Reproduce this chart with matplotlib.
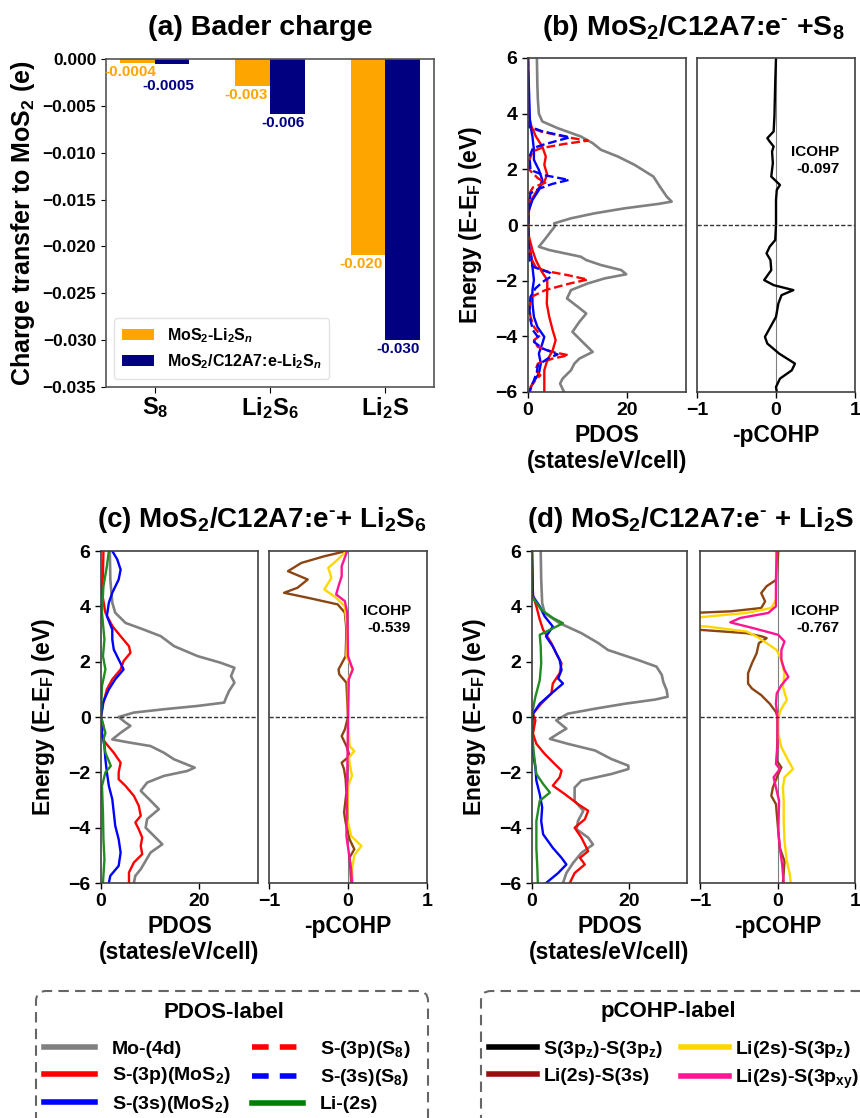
import numpy as np
import matplotlib
matplotlib.use('Agg')
import matplotlib.pyplot as plt
from matplotlib.lines import Line2D
from matplotlib.patches import FancyBboxPatch
from matplotlib.ticker import FuncFormatter

plt.rcParams['font.family'] = ['Liberation Sans', 'DejaVu Sans']
plt.rcParams['font.weight'] = 'bold'
plt.rcParams['axes.labelweight'] = 'bold'
plt.rcParams['mathtext.fontset'] = 'custom'
plt.rcParams['mathtext.default'] = 'regular'
plt.rcParams['mathtext.rm'] = 'Liberation Sans:bold'
plt.rcParams['mathtext.bf'] = 'Liberation Sans:bold'
plt.rcParams['mathtext.it'] = 'Liberation Sans:italic:bold'

# ---------------- (a) Bader charge ----------------
systems = [r'S$_8$', r'Li$_2$S$_6$', r'Li$_2$S']
bader_mos2 = [-0.0004, -0.0029, -0.0209]
bader_c12a7 = [-0.0005, -0.0059, -0.0300]
bader_mos2_txt = ['-0.0004', '-0.003', '-0.020']
bader_c12a7_txt = ['-0.0005', '-0.006', '-0.030']

# ---------------- (b) MoS2/C12A7:e- + S8 ----------------
b_mo_e = [6.0, 5.0, 4.5, 4.0, 3.72, 3.48, 3.18, 2.94, 2.7, 2.46, 2.16, 1.74, 1.38, 1.02, 0.84, 0.76, 0.6, 0.42,
          0.24, 0.06, -0.06, -0.24, -0.54, -0.78, -0.9, -1.14, -1.26, -1.44, -1.62, -1.77, -1.92, -2.1, -2.34,
          -2.64, -2.94, -3.18, -3.48, -3.84, -4.14, -4.56, -4.8, -4.98, -5.22, -5.52, -5.7, -6.0]
b_mo = [1.8, 1.9, 2.0, 2.2, 2.9, 6.0, 10.7, 13.1, 14.8, 18.2, 21.6, 25.4, 26.7, 28.1, 29.1, 26.5, 19.6, 13.5,
        8.7, 5.3, 5.4, 4.6, 3.3, 2.2, 4.3, 10.7, 11.8, 14.8, 18.9, 19.9, 15.5, 12.1, 8.7,
        7.9, 10.1, 11.8, 10.4, 9.0, 10.7, 13.1, 10.4, 9.4, 8.7, 7.0, 6.5, 7.3]
b_s3p_e = [6.0, 4.0, 3.54, 3.18, 2.82, 2.46, 2.16, 1.8, 1.56, 1.26, 0.9, 0.54, 0.0, -0.42, -0.9, -1.26, -1.62,
           -1.98, -2.34, -2.82, -3.3, -3.78, -4.14, -4.5, -4.86, -5.22, -5.58, -6.0]
b_s3p = [0.0, 0.1, 0.7, 1.6, 2.9, 3.6, 3.3, 3.9, 3.3, 1.9, 0.7, 0.2, 0.0, 0.2, 0.9, 1.6, 2.6,
         3.9, 3.9, 3.8, 4.3, 5.0, 5.6, 5.0, 3.9, 3.3, 3.3, 3.3]
b_s3s_e = [6.0, 4.3, 3.66, 3.18, 2.7, 2.34, 1.98, 1.62, 1.26, 0.9, 0.54, 0.0, -0.66, -1.14, -1.5, -1.98, -2.34,
           -2.82, -3.3, -3.66, -4.02, -4.26, -4.62, -4.98, -5.34, -5.7, -6.0]
b_s3s = [0.0, 0.3, 0.4, 0.9, 1.2, 1.2, 2.2, 2.9, 2.2, 0.9, 0.2, 0.0, 0.1, 0.7, 0.9, 1.2, 0.9,
         0.9, 1.2, 1.9, 3.3, 2.9, 2.2, 2.6, 2.2, 0.9, 0.2]
b_s8p_e = [6.0, 3.6, 3.52, 3.36, 3.15, 3.03, 2.91, 2.76, 2.64, 2.34, 1.98, 1.68, 1.52, 1.35, 1.14, 0.5, -0.6,
           -1.14, -1.5, -1.65, -1.8, -1.96, -2.1, -2.34, -2.58, -2.94, -3.3, -3.66, -3.96, -4.14, -4.38,
           -4.56, -4.68, -4.8, -4.98, -5.22, -5.4, -5.58, -5.82, -6.0]
b_s8p = [0.0, 0.0, 0.2, 2.6, 8.0, 12.1, 7.3, 2.6, 0.9, 0.3, 0.3, 2.0, 3.5, 1.0, 0.3, 0.1, 0.1,
         0.5, 1.5, 3.5, 8.0, 12.1, 8.5, 3.5, 0.7, 0.3, 0.5, 1.2, 2.5, 1.2, 2.0,
         5.0, 8.2, 5.0, 2.0, 1.5, 2.5, 1.5, 0.5, 0.5]
b_s8s_e = [6.0, 3.6, 3.54, 3.36, 3.15, 3.03, 2.88, 2.76, 2.46, 1.98, 1.8, 1.62, 1.48, 1.32, 1.14, 0.5, -0.6,
           -1.26, -1.5, -1.72, -1.86, -2.04, -2.28, -2.58, -3.06, -3.42, -3.78, -4.02, -4.2, -4.44, -4.65,
           -4.8, -5.04, -5.28, -5.58, -6.0]
b_s8s = [0.0, 0.0, 0.2, 3.0, 8.5, 6.0, 3.0, 1.0, 0.3, 0.5, 3.0, 8.3, 5.0, 2.5, 0.5, 0.1, 0.1,
         0.3, 1.0, 4.5, 4.6, 3.0, 1.5, 0.5, 0.3, 0.5, 1.0, 2.0, 1.2, 3.0, 6.0,
         4.0, 2.0, 1.8, 1.2, 0.3]
b_cohp_e = [6.0, 5.1, 3.9, 3.36, 3.12, 3.0, 2.82, 2.64, 2.22, 1.74, 1.44, 1.26, 0.9, 0.0, -0.54, -0.78, -1.02,
            -1.26, -1.62, -1.98, -2.16, -2.34, -2.52, -2.82, -3.3, -3.66, -4.02, -4.26, -4.62, -4.98, -5.22,
            -5.52, -5.82, -6.0]
b_cohp = [0.0, -0.01, -0.02, -0.03, -0.11, -0.08, -0.03, -0.05, -0.04, -0.06, 0.05, 0.01, 0.0, 0.0, -0.01, -0.08,
          -0.12, -0.07, -0.06, -0.15, -0.03, 0.22, 0.07, 0.03, 0.0, -0.07, -0.14, -0.11, 0.04, 0.24, 0.2,
          0.05, 0.0, 0.01]

# ---------------- (c) MoS2/C12A7:e- + Li2S6 ----------------
c_mo_e = [6.0, 4.97, 4.13, 3.77, 3.4, 3.16, 2.92, 2.56, 2.2, 1.96, 1.78, 1.48, 1.24, 0.94, 0.7, 0.52, 0.4, 0.28,
          0.16, 0.0, -0.2, -0.32, -0.57, -0.81, -0.93, -1.05, -1.29, -1.53, -1.83, -1.95, -2.13, -2.37, -2.67,
          -2.97, -3.33, -3.69, -4.0, -4.3, -4.6, -4.9, -5.2, -5.5, -5.74, -6.0]
c_mo = [1.8, 1.9, 2.3, 2.9, 5.0, 8.7, 12.2, 14.9, 19.7, 24.4, 27.2, 26.5, 27.2, 26.1, 25.5, 25.1, 19.7, 12.8,
        6.7, 3.6, 5.0, 6.0, 4.0, 2.3, 6.0, 10.1, 12.8, 14.9, 19.1, 17.6, 12.8, 9.4, 8.1,
        9.8, 11.8, 9.4, 9.1, 10.8, 12.5, 10.1, 9.1, 8.1, 7.0, 6.7]
c_s3p_e = [6.0, 5.2, 4.5, 3.77, 3.29, 2.92, 2.56, 2.32, 2.02, 1.72, 1.36, 1.0, 0.52, 0.0, -0.32, -0.69, -0.93,
           -1.29, -1.65, -2.0, -2.25, -2.49, -2.85, -3.21, -3.57, -3.81, -4.06, -4.36, -4.66, -4.96, -5.26,
           -5.62, -6.0]
c_s3p = [0.5, 0.4, 0.2, 0.9, 2.3, 4.0, 5.7, 6.0, 4.6, 4.0, 2.3, 1.2, 0.5, 0.0, 0.5, 0.0, 0.9,
         2.6, 4.0, 3.6, 3.6, 5.0, 6.7, 7.7, 8.1, 7.0, 7.7, 8.4, 8.1, 8.4, 6.7,
         5.7, 5.7]
c_s3s_e = [6.0, 5.7, 5.33, 4.97, 4.49, 4.13, 3.65, 3.16, 2.8, 2.44, 2.08, 1.72, 1.36, 1.0, 0.52, 0.0, -0.57,
           -1.05, -1.53, -2.0, -2.49, -2.97, -3.45, -3.93, -4.42, -4.9, -5.38, -5.74, -6.0]
c_s3s = [2.3, 3.3, 4.0, 3.6, 2.3, 1.6, 1.2, 2.3, 2.3, 2.6, 3.6, 4.6, 2.9, 1.6, 0.4, 0.0, 0.2,
         0.7, 0.9, 1.2, 1.6, 2.3, 2.6, 2.9, 3.6, 4.0, 3.6, 1.9, 1.6]
c_li_e = [6.0, 5.45, 4.73, 3.77, 2.8, 2.2, 1.72, 1.12, 0.0, -0.57, -0.81, -1.29, -1.77, -2.0, -2.49, -3.45,
          -4.42, -5.14, -6.0]
c_li = [1.6, 1.2, 0.5, 0.2, 0.7, 0.4, 0.9, 0.2, 0.0, 0.9, 0.5, 0.9, 2.0, 0.9, 0.2, 0.4,
        0.5, 0.7, 0.4]
c_ss_e = [6.0, 5.81, 5.57, 5.27, 4.97, 4.67, 4.49, 4.31, 4.07, 3.77, 3.16, 2.2, 1.72, 1.54, 1.24, 0.0, -0.45,
          -0.69, -1.05, -1.41, -1.65, -1.89, -2.25, -2.73, -3.45, -3.81, -4.42, -4.78, -5.08, -5.5, -6.0]
c_ss = [-0.02, -0.30, -0.59, -0.76, -0.51, -0.64, -0.81, -0.51, -0.13, -0.04, -0.02, -0.03, -0.12, -0.11, -0.02,
        0.0, -0.04, -0.08, -0.02, 0.02, -0.08, -0.05, -0.03, -0.02, -0.05, -0.03, 0.02, 0.08, 0.02, 0.03, 0.04]
c_pz_e = [6.0, 5.69, 5.39, 5.03, 4.61, 4.31, 4.0, 3.16, 2.2, 1.72, 1.36, 0.0, -1.05, -1.23, -1.47, -2.13, -2.49,
          -3.69, -4.3, -4.66, -5.0, -5.5, -6.0]
c_pz = [-0.02, -0.13, -0.25, -0.21, -0.30, -0.15, -0.04, -0.01, -0.02, 0.06, 0.0, 0.0, 0.02, 0.08, 0.01, 0.05,
        0.0, -0.01, 0.04, 0.17, 0.08, 0.05, 0.06]
c_pxy_e = [6.0, 5.45, 5.09, 4.73, 4.43, 4.19, 3.77, 2.2, 1.72, 1.36, 0.0, -2.25, -4.3, -4.9, -5.5, -6.0]
c_pxy = [-0.01, -0.08, -0.08, -0.12, -0.15, -0.04, -0.01, 0.0, 0.06, 0.01, 0.0, -0.01, -0.02, 0.01, 0.04, 0.05]

# ---------------- (d) MoS2/C12A7:e- + Li2S ----------------
d_mo_e = [6.0, 4.97, 4.12, 3.76, 3.39, 3.03, 2.67, 2.42, 2.06, 1.82, 1.52, 1.27, 0.97, 0.73, 0.63, 0.48, 0.3,
          0.12, -0.12, -0.42, -0.6, -0.79, -0.97, -1.21, -1.52, -1.76, -1.88, -2.06, -2.3, -2.55, -3.03, -3.39,
          -3.76, -4.06, -4.36, -4.61, -4.91, -5.27, -5.64, -6.0]
d_mo = [1.8, 1.9, 2.1, 2.6, 5.7, 10.2, 13.7, 15.7, 21.9, 25.7, 26.8, 27.1, 27.8, 28.0, 25.4, 19.2, 13.0,
        7.4, 5.0, 7.1, 5.4, 3.7, 7.4, 13.0, 16.4, 19.9, 19.9, 16.4, 10.2, 8.8, 8.8, 10.6,
        9.5, 9.2, 11.6, 12.6, 10.2, 8.5, 7.1, 6.4]
d_s3p_e = [6.0, 4.4, 4.0, 3.52, 3.15, 2.67, 2.3, 1.94, 1.58, 1.21, 0.85, 0.48, 0.12, -0.12, -0.6, -0.97, -1.33,
           -1.7, -1.94, -2.18, -2.48, -2.79, -3.15, -3.39, -3.7, -4.0, -4.36, -4.85, -5.09, -5.33, -5.64, -6.0]
d_s3p = [0.0, 0.2, 0.9, 1.6, 2.3, 4.0, 5.0, 6.1, 5.7, 4.3, 4.0, 1.9, 0.2, 0.7, 0.2, 0.9, 2.6,
         4.7, 6.1, 5.7, 4.3, 6.8, 9.5, 11.6, 10.9, 8.8, 10.2, 11.6, 9.9, 10.9, 8.8, 7.8]
d_s3s_e = [6.0, 4.36, 4.0, 3.64, 3.27, 2.91, 2.55, 2.06, 1.7, 1.39, 1.21, 0.85, 0.48, 0.12, -0.6, -1.33, -1.82,
           -2.3, -2.79, -3.27, -3.76, -4.24, -4.73, -5.09, -5.33, -5.64, -6.0]
d_s3s = [0.0, 0.2, 1.6, 2.6, 4.3, 2.9, 4.3, 5.7, 6.1, 5.4, 6.4, 4.0, 1.6, 0.2, 0.0, 0.2, 0.7,
         0.9, 1.6, 2.1, 1.9, 2.3, 4.3, 6.1, 7.1, 5.4, 2.9]
d_li_e = [6.0, 4.36, 3.88, 3.58, 3.39, 3.15, 2.97, 2.55, 1.94, 1.33, 0.73, 0.12, -0.6, -1.33, -2.06, -2.42,
          -2.73, -3.03, -3.76, -4.73, -5.45, -6.0]
d_li = [0.0, 0.0, 1.9, 4.3, 6.4, 3.7, 1.6, 1.8, 1.9, 1.6, 0.7, 0.0, 0.0, 0.4, 0.9, 2.3,
        3.7, 1.6, 0.9, 0.9, 1.1, 1.2]
d_ss_e = [6.0, 4.97, 4.73, 4.48, 4.18, 3.94, 3.82, 3.76, 3.7, 3.2, 3.15, 3.03, 2.91, 2.85, 2.67, 2.3, 1.94,
          1.58, 1.21, 1.03, 0.79, 0.48, 0.18, 0.0, -0.6, -1.58, -1.82, -2.06, -2.55, -2.85, -3.15, -4.12,
          -4.73, -5.21, -5.64, -6.0]
d_ss = [0.01, -0.01, -0.14, -0.21, -0.16, -0.21, -0.60, -1.1, -1.3, -1.3, -1.0, -0.4, -0.20, -0.14, -0.24, -0.27,
        -0.33, -0.38, -0.38, -0.33, -0.21, -0.10, -0.02, 0.0, 0.0, -0.01, 0.05, 0.01, -0.06, -0.08, -0.02, 0.01,
        0.03, 0.09, 0.08, 0.07]
d_pz_e = [6.0, 4.97, 4.24, 3.94, 3.76, 3.64, 3.55, 3.3, 3.27, 3.09, 2.91, 2.67, 2.42, 2.06, 1.58, 1.09, 0.61,
          0.3, 0.0, -0.6, -1.09, -1.58, -1.88, -2.18, -2.55, -3.03, -3.76, -4.48, -5.21, -5.7, -6.0]
d_pz = [-0.02, -0.01, -0.02, -0.08, -0.40, -0.87, -1.2, -1.2, -0.91, -0.40, -0.27, -0.14, -0.01, 0.05, 0.09, 0.07,
        0.12, 0.05, 0.01, 0.01, 0.05, 0.14, 0.20, 0.09, 0.07, 0.08, 0.08, 0.09, 0.12, 0.16, 0.17]
d_pxy_e = [6.0, 4.97, 4.0, 3.76, 3.58, 3.42, 3.21, 2.97, 2.73, 2.42, 2.06, 1.7, 1.45, 1.15, 0.85, 0.48, 0.0,
           -1.09, -1.7, -1.88, -2.18, -2.55, -3.03, -4.12, -4.73, -5.33, -6.0]
d_pxy = [-0.01, -0.02, -0.02, -0.12, -0.48, -0.61, -0.31, 0.01, 0.09, 0.05, 0.05, 0.09, 0.14, 0.05, -0.01, -0.02,
         0.0, 0.0, -0.02, 0.03, -0.05, -0.02, 0.02, 0.01, 0.03, 0.06, 0.08]

icohp = ['-0.097', '-0.539', '-0.767']

pdos_labels = ['Mo-(4d)', r'S-(3p)(MoS$_2$)', r'S-(3s)(MoS$_2$)', r'S-(3p)(S$_8$)', r'S-(3s)(S$_8$)', 'Li-(2s)']
cohp_labels = [r'S(3p$_z$)-S(3p$_z$)', 'Li(2s)-S(3s)', r'Li(2s)-S(3p$_z$)', r'Li(2s)-S(3p$_{xy}$)']

# colours
C_MO, C_RED, C_BLUE, C_GREEN = 'gray', 'red', 'blue', 'forestgreen'
C_BROWN, C_GOLD, C_PINK = '#8B4513', 'gold', '#FF1493'

HY = '\u2010'  # short hyphen for the e- superscript

W, H = 860, 1118
fig = plt.figure(figsize=(W / 100, H / 100), dpi=100)


def fx(px):
    return px / W


def fy(py):
    return 1 - py / H


def px_axes(l, t, r, b):
    return fig.add_axes([fx(l), fy(b), (r - l) / W, (b - t) / H])


def frame(ax):
    for s in ax.spines.values():
        s.set_color('#404040')
        s.set_linewidth(1.2)
    ax.tick_params(labelsize=14, length=4, width=1, colors='black')


def pdos_axes(ax, curves):
    for e, v, col, ls in curves:
        ax.plot(v, e, color=col, ls=ls, lw=1.7 if col != C_MO else 1.9)
    ax.axhline(0, color='#333333', ls=(0, (3, 1.5)), lw=1)
    ax.set_xlim(0, 32)
    ax.set_ylim(-6, 6)
    ax.set_xticks([0, 20])
    ax.set_yticks([-6, -4, -2, 0, 2, 4, 6])
    ax.set_xlabel('PDOS\n(states/eV/cell)', fontsize=16.5, labelpad=3)
    ax.set_ylabel(r'Energy (E-E$_F$) (eV)', fontsize=16.5, labelpad=8)
    frame(ax)


def cohp_axes(ax, curves, txt, ty):
    ax.axvline(0, color='gray', lw=0.8)
    for e, v, col in curves:
        ax.plot(v, e, color=col, lw=1.7)
    ax.axhline(0, color='#333333', ls=(0, (3, 1.5)), lw=1)
    ax.set_xlim(-1, 1)
    ax.set_ylim(-6, 6)
    ax.set_xticks([-1, 0, 1])
    ax.set_yticks([])
    ax.set_xlabel('-pCOHP', fontsize=16.5, labelpad=3)
    ax.text(0.9, ty, 'ICOHP\n' + txt, transform=ax.transAxes, ha='right', va='top',
            multialignment='right', fontsize=11, linespacing=1.3)
    frame(ax)


# ---------- panel (a) ----------
ax_a = px_axes(106, 59, 434, 387)
x = np.arange(len(systems))
w = 0.3
ax_a.bar(x - w / 2, bader_mos2, w, color='orange', label=r'MoS$_2$-Li$_2$S$_\mathit{n}$')
ax_a.bar(x + w / 2, bader_c12a7, w, color='navy', label=r'MoS$_2$/C12A7:e-Li$_2$S$_\mathit{n}$')
for i in range(len(systems)):
    ax_a.annotate(bader_mos2_txt[i], (x[i] - w / 2, bader_mos2[i]), xytext=(-5, -1.5), textcoords='offset points',
                  ha='center', va='top', color='orange', fontsize=11)
    off = -11 if i == 0 else -1.5
    ax_a.annotate(bader_c12a7_txt[i], (x[i] + w / 2, bader_c12a7[i]), xytext=(-3, off), textcoords='offset points',
                  ha='center', va='top', color='navy', fontsize=11)
ax_a.set_xlim(-0.426, 2.426)
ax_a.set_ylim(-0.035, 0)
ax_a.set_xticks(x)
ax_a.set_xticklabels(systems, fontsize=17)
ax_a.set_yticks(np.arange(-0.035, 0.0001, 0.005))
ax_a.yaxis.set_major_formatter(FuncFormatter(lambda v, p: f'{v:.3f}'.replace('-', '\u2212') if abs(v) > 1e-9 else '0.000'))
ax_a.tick_params(axis='y', labelsize=12.5)
ax_a.tick_params(axis='x', length=4, pad=2)
ax_a.set_ylabel(r'Charge transfer to MoS$_2$ (e)', fontsize=18, labelpad=4)
for s in ax_a.spines.values():
    s.set_color('#555555')
    s.set_linewidth(1.2)
ax_a.legend(loc='lower left', fontsize=11.5, handlelength=2.0, borderpad=0.5, labelspacing=0.45,
            edgecolor='#dddddd')

# ---------- panel (b) ----------
ax_b1 = px_axes(528, 58, 686, 392)
pdos_axes(ax_b1, [(b_mo_e, b_mo, C_MO, '-'), (b_s3p_e, b_s3p, C_RED, '-'), (b_s3s_e, b_s3s, C_BLUE, '-'),
                  (b_s8p_e, b_s8p, C_RED, '--'), (b_s8s_e, b_s8s, C_BLUE, '--')])
ax_b2 = px_axes(697, 58, 855, 392)
cohp_axes(ax_b2, [(b_cohp_e, b_cohp, 'black')], icohp[0], 0.74)

# ---------- panel (c) ----------
ax_c1 = px_axes(101, 551, 258, 883)
pdos_axes(ax_c1, [(c_mo_e, c_mo, C_MO, '-'), (c_s3p_e, c_s3p, C_RED, '-'), (c_s3s_e, c_s3s, C_BLUE, '-'),
                  (c_li_e, c_li, C_GREEN, '-')])
ax_c2 = px_axes(269, 551, 427, 883)
cohp_axes(ax_c2, [(c_ss_e, c_ss, C_BROWN), (c_pz_e, c_pz, C_GOLD), (c_pxy_e, c_pxy, C_PINK)], icohp[1], 0.84)

# ---------- panel (d) ----------
ax_d1 = px_axes(532, 551, 687, 883)
pdos_axes(ax_d1, [(d_mo_e, d_mo, C_MO, '-'), (d_s3p_e, d_s3p, C_RED, '-'), (d_s3s_e, d_s3s, C_BLUE, '-'),
                  (d_li_e, d_li, C_GREEN, '-')])
ax_d2 = px_axes(700, 551, 855, 883)
cohp_axes(ax_d2, [(d_ss_e, d_ss, C_BROWN), (d_pz_e, d_pz, C_GOLD), (d_pxy_e, d_pxy, C_PINK)], icohp[2], 0.84)

# ---------- titles ----------
fig.text(fx(260), fy(28), '(a) Bader charge', ha='center', va='center', fontsize=20.5)
fig.text(fx(693), fy(28), '(b) MoS$_2$/C12A7:e$^{' + HY + '}$ +S$_8$', ha='center', va='center', fontsize=20.5)
fig.text(fx(262), fy(520), '(c) MoS$_2$/C12A7:e$^{' + HY + '}$+ Li$_2$S$_6$', ha='center', va='center', fontsize=20)
fig.text(fx(691), fy(520), '(d) MoS$_2$/C12A7:e$^{' + HY + '}$ + Li$_2$S', ha='center', va='center', fontsize=20)

# ---------- label boxes ----------
for x0, wd in [(0.36, 3.92), (4.81, 4.5)]:
    fig.add_artist(FancyBboxPatch((x0, -0.4), wd, 1.67, boxstyle='round,pad=0,rounding_size=0.1',
                                  transform=fig.dpi_scale_trans, fill=False, ec='#666666', lw=1.5,
                                  ls=(0, (5, 3))))
fig.text(fx(224), fy(1012), 'PDOS-label', ha='center', va='center', fontsize=16)
fig.text(fx(668), fy(1012), 'pCOHP-label', ha='center', va='center', fontsize=16)

pdos_handles = [Line2D([], [], color=C_MO, lw=4), Line2D([], [], color=C_RED, lw=4),
                Line2D([], [], color=C_BLUE, lw=4), Line2D([], [], color=C_RED, lw=4, ls=(0, (3, 2))),
                Line2D([], [], color=C_BLUE, lw=4, ls=(0, (3, 2))), Line2D([], [], color='green', lw=4)]
fig.legend(pdos_handles, pdos_labels, ncol=2, loc='upper left', bbox_to_anchor=(fx(44), fy(1039)),
           frameon=False, fontsize=14, handlelength=2.6, handletextpad=0.9, columnspacing=1.1,
           labelspacing=0.38, borderpad=0, borderaxespad=0)
cohp_handles = [Line2D([], [], color='black', lw=4), Line2D([], [], color='#990f0f', lw=4),
                Line2D([], [], color=C_GOLD, lw=4), Line2D([], [], color=C_PINK, lw=4)]
fig.legend(cohp_handles, cohp_labels, ncol=2, loc='upper left', bbox_to_anchor=(fx(489), fy(1039)),
           frameon=False, fontsize=14, handlelength=2.45, handletextpad=0.35, columnspacing=0.9,
           labelspacing=0.38, borderpad=0, borderaxespad=0)

fig.savefig('out.png', dpi=100)
